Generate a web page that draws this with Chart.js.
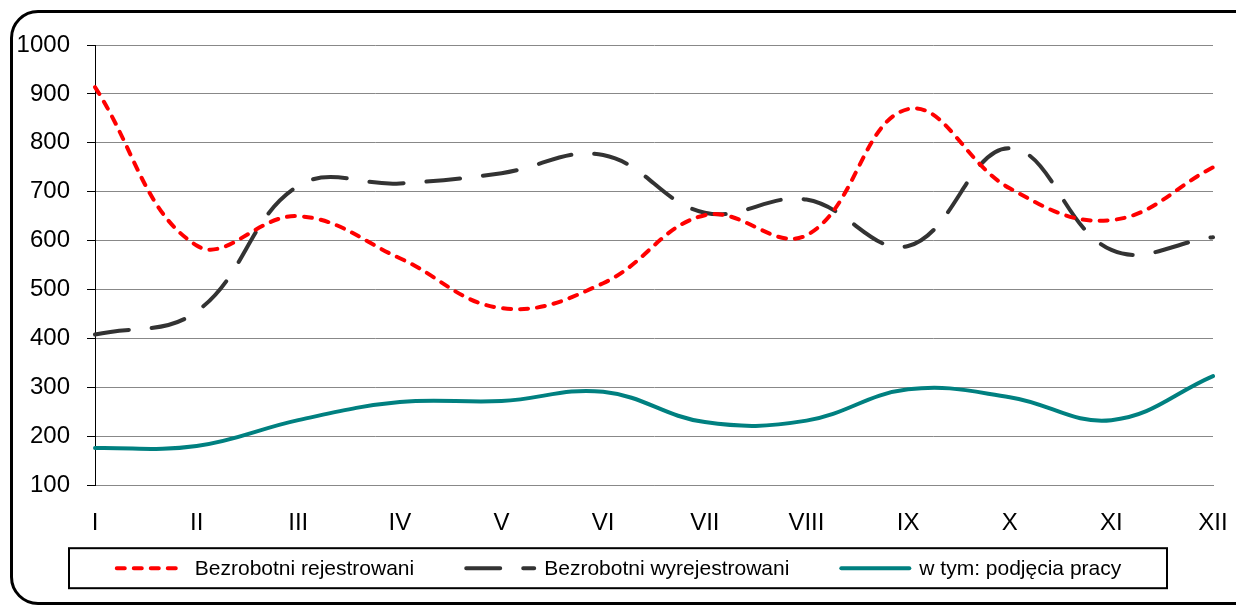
<!DOCTYPE html>
<html>
<head>
<meta charset="utf-8">
<script src="https://cdn.jsdelivr.net/npm/chart.js@4"></script>
<style>
  html, body { margin: 0; padding: 0; background: #fff; }
  #wrap { position: relative; width: 1236px; height: 605px; overflow: hidden; }
  #frame {
    position: absolute; left: 10px; top: 10px; width: 1260px; height: 595px;
    box-sizing: border-box; border: 3px solid #000; border-radius: 28px;
  }
  #chart-box { position: absolute; left: 0; top: 0; width: 1236px; height: 605px; }
</style>
</head>
<body>
<div id="wrap">
  <div id="frame"></div>
  <div id="chart-box"><canvas id="chart"></canvas></div>
</div>
<script>
const months = ['I', 'II', 'III', 'IV', 'V', 'VI', 'VII', 'VIII', 'IX', 'X', 'XI', 'XII'];
const rejestrowani = [914, 590, 650, 564, 462, 513, 652, 611, 869, 707, 642, 750];
const wyrejestrowani = [408, 455, 712, 717, 738, 775, 657, 684, 589, 789, 581, 607];
const podjeciaPracy = [176, 180, 233, 270, 272, 291, 229, 232, 296, 280, 233, 323];
const yTicks = [100, 200, 300, 400, 500, 600, 700, 800, 900, 1000];

const fontFamily = '"Liberation Sans", Arial, sans-serif';

// legend in a framed box under the x axis
const boxLegend = {
    id: 'boxLegend',
    afterDraw: function(chart) {
        const ctx = chart.ctx;
        const sample = 72, textGap = 8, itemGap = 50, sidePad = 46, h = 40;
        ctx.save();
        ctx.font = '21px ' + fontFamily;
        const items = chart.data.datasets.map(ds => ({ ds: ds, w: ctx.measureText(ds.label).width }));
        const rowW = items.reduce((s, it) => s + sample + textGap + it.w, 0) + itemGap * (items.length - 1);
        const top = chart.chartArea.bottom + 63;
        let x = chart.width / 2 - rowW / 2;
        ctx.lineWidth = 2;
        ctx.strokeStyle = '#000';
        ctx.setLineDash([]);
        ctx.strokeRect(Math.round(x - sidePad), top, Math.round(rowW + sidePad * 2), h);
        const cy = top + h / 2;
        items.forEach(it => {
            ctx.beginPath();
            ctx.setLineDash(it.ds.borderDash || []);
            ctx.lineCap = it.ds.borderCapStyle || 'butt';
            ctx.lineWidth = it.ds.borderWidth;
            ctx.strokeStyle = it.ds.borderColor;
            ctx.moveTo(x + 2, cy);
            ctx.lineTo(x + sample - 2, cy);
            ctx.stroke();
            ctx.setLineDash([]);
            ctx.fillStyle = '#000';
            ctx.textBaseline = 'middle';
            ctx.textAlign = 'left';
            ctx.fillText(it.ds.label, x + sample + textGap, cy + 1);
            x += sample + textGap + it.w + itemGap;
        });
        ctx.restore();
    }
};

new Chart(document.getElementById('chart'), {
    type: 'line',
    data: {
        labels: months,
        datasets: [{
            label: 'Bezrobotni rejestrowani',
            data: rejestrowani,
            borderColor: '#ff0000',
            borderWidth: 4,
            borderDash: [8, 9],
            borderCapStyle: 'round',
            pointRadius: 0,
            tension: 0.4
        }, {
            label: 'Bezrobotni wyrejestrowani',
            data: wyrejestrowani,
            borderColor: '#333333',
            borderWidth: 4,
            borderDash: [34, 23],
            borderCapStyle: 'round',
            pointRadius: 0,
            tension: 0.4
        }, {
            label: 'w tym: podjęcia pracy',
            data: podjeciaPracy,
            borderColor: '#008080',
            borderWidth: 4,
            borderCapStyle: 'round',
            pointRadius: 0,
            tension: 0.4
        }]
    },
    options: {
        responsive: true,
        maintainAspectRatio: false,
        animation: false,
        layout: { padding: { left: 12, right: 23, top: 45, bottom: 51 } },
        plugins: {
            legend: { display: false },
            tooltip: { enabled: false }
        },
        scales: {
            x: {
                offset: false,
                afterFit: function(scale) { scale.paddingRight = 0; scale.paddingLeft = 0; },
                grid: { display: false },
                border: { display: true, color: '#888888', width: 1 },
                ticks: {
                    color: '#000',
                    font: { family: fontFamily, size: 24 },
                    padding: 16,
                    maxRotation: 0,
                    autoSkip: false
                }
            },
            y: {
                min: 100,
                max: 1000,
                afterFit: function(scale) { scale.width = 83; },
                afterBuildTicks: function(scale) { scale.ticks = yTicks.map(v => ({ value: v })); },
                grid: { color: '#888888', lineWidth: 1, tickColor: '#000', tickLength: 8 },
                border: { display: true, color: '#000', width: 1 },
                ticks: {
                    color: '#000',
                    font: { family: fontFamily, size: 24 },
                    padding: 17,
                    callback: function(value) { return String(value); }
                }
            }
        }
    },
    plugins: [boxLegend]
});
</script>
</body>
</html>
